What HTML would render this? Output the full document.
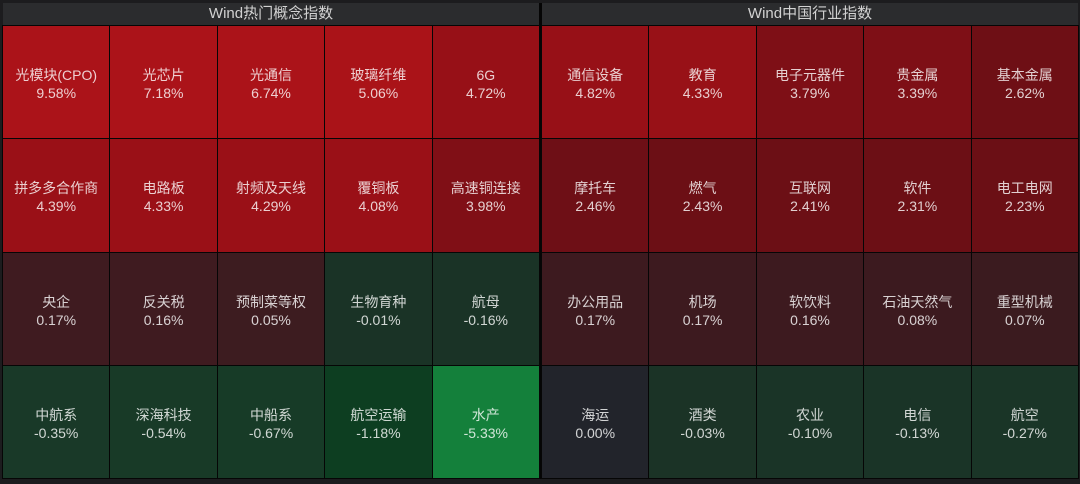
<!DOCTYPE html>
<html><head><meta charset="utf-8"><style>
*{margin:0;padding:0;box-sizing:border-box}
html,body{width:1080px;height:484px;overflow:hidden;background:#1c1c1e}
body{position:relative;font-family:"Liberation Sans","Noto Sans CJK SC",sans-serif}
.sep{position:absolute;left:539px;top:3px;width:3px;height:476px;background:#050505}
.hdr{position:absolute;top:3px;height:22px;background:#2b2c2e;color:#d2d2d2;font-size:15px;line-height:22px;text-align:center}
.grid{position:absolute;top:25px;width:538px;height:454px;background:#060606;padding:1px;display:grid;grid-template-columns:repeat(5,1fr);grid-template-rows:repeat(4,1fr);gap:1px}
.c{display:flex;flex-direction:column;justify-content:center;align-items:center;color:rgba(255,255,255,0.8);font-size:14px;line-height:18px;padding-top:4px}
</style></head><body>
<div class="hdr" style="left:3px;width:536px">Wind热门概念指数</div>
<div class="hdr" style="left:542px;width:536px">Wind中国行业指数</div>
<div class="sep"></div>
<div class="grid" style="left:2px">
<div class="c" style="background:#ab1319"><div>光模块(CPO)</div><div>9.58%</div></div>
<div class="c" style="background:#ab1319"><div>光芯片</div><div>7.18%</div></div>
<div class="c" style="background:#ab1319"><div>光通信</div><div>6.74%</div></div>
<div class="c" style="background:#aa1318"><div>玻璃纤维</div><div>5.06%</div></div>
<div class="c" style="background:#971017"><div>6G</div><div>4.72%</div></div>
<div class="c" style="background:#9a1017"><div>拼多多合作商</div><div>4.39%</div></div>
<div class="c" style="background:#9a1017"><div>电路板</div><div>4.33%</div></div>
<div class="c" style="background:#9a1017"><div>射频及天线</div><div>4.29%</div></div>
<div class="c" style="background:#9a1017"><div>覆铜板</div><div>4.08%</div></div>
<div class="c" style="background:#800f16"><div>高速铜连接</div><div>3.98%</div></div>
<div class="c" style="background:#3f1b20"><div>央企</div><div>0.17%</div></div>
<div class="c" style="background:#3f1b20"><div>反关税</div><div>0.16%</div></div>
<div class="c" style="background:#3d1c20"><div>预制菜等权</div><div>0.05%</div></div>
<div class="c" style="background:#1a3326"><div>生物育种</div><div>-0.01%</div></div>
<div class="c" style="background:#1a3326"><div>航母</div><div>-0.16%</div></div>
<div class="c" style="background:#193928"><div>中航系</div><div>-0.35%</div></div>
<div class="c" style="background:#183a27"><div>深海科技</div><div>-0.54%</div></div>
<div class="c" style="background:#173b27"><div>中船系</div><div>-0.67%</div></div>
<div class="c" style="background:#0d3e21"><div>航空运输</div><div>-1.18%</div></div>
<div class="c" style="background:#14803b"><div>水产</div><div>-5.33%</div></div>
</div>
<div class="grid" style="left:541px">
<div class="c" style="background:#971017"><div>通信设备</div><div>4.82%</div></div>
<div class="c" style="background:#981117"><div>教育</div><div>4.33%</div></div>
<div class="c" style="background:#7e0f16"><div>电子元器件</div><div>3.79%</div></div>
<div class="c" style="background:#7e0f16"><div>贵金属</div><div>3.39%</div></div>
<div class="c" style="background:#6e0f15"><div>基本金属</div><div>2.62%</div></div>
<div class="c" style="background:#6e0f16"><div>摩托车</div><div>2.46%</div></div>
<div class="c" style="background:#6c0f15"><div>燃气</div><div>2.43%</div></div>
<div class="c" style="background:#6c0f15"><div>互联网</div><div>2.41%</div></div>
<div class="c" style="background:#6c0f15"><div>软件</div><div>2.31%</div></div>
<div class="c" style="background:#6b0f15"><div>电工电网</div><div>2.23%</div></div>
<div class="c" style="background:#3d1a1f"><div>办公用品</div><div>0.17%</div></div>
<div class="c" style="background:#3d1a1f"><div>机场</div><div>0.17%</div></div>
<div class="c" style="background:#3d1a1f"><div>软饮料</div><div>0.16%</div></div>
<div class="c" style="background:#3c1a1f"><div>石油天然气</div><div>0.08%</div></div>
<div class="c" style="background:#3b1b1f"><div>重型机械</div><div>0.07%</div></div>
<div class="c" style="background:#22242b"><div>海运</div><div>0.00%</div></div>
<div class="c" style="background:#1b3326"><div>酒类</div><div>-0.03%</div></div>
<div class="c" style="background:#1a3427"><div>农业</div><div>-0.10%</div></div>
<div class="c" style="background:#1a3427"><div>电信</div><div>-0.13%</div></div>
<div class="c" style="background:#1a3527"><div>航空</div><div>-0.27%</div></div>
</div>
</body></html>
